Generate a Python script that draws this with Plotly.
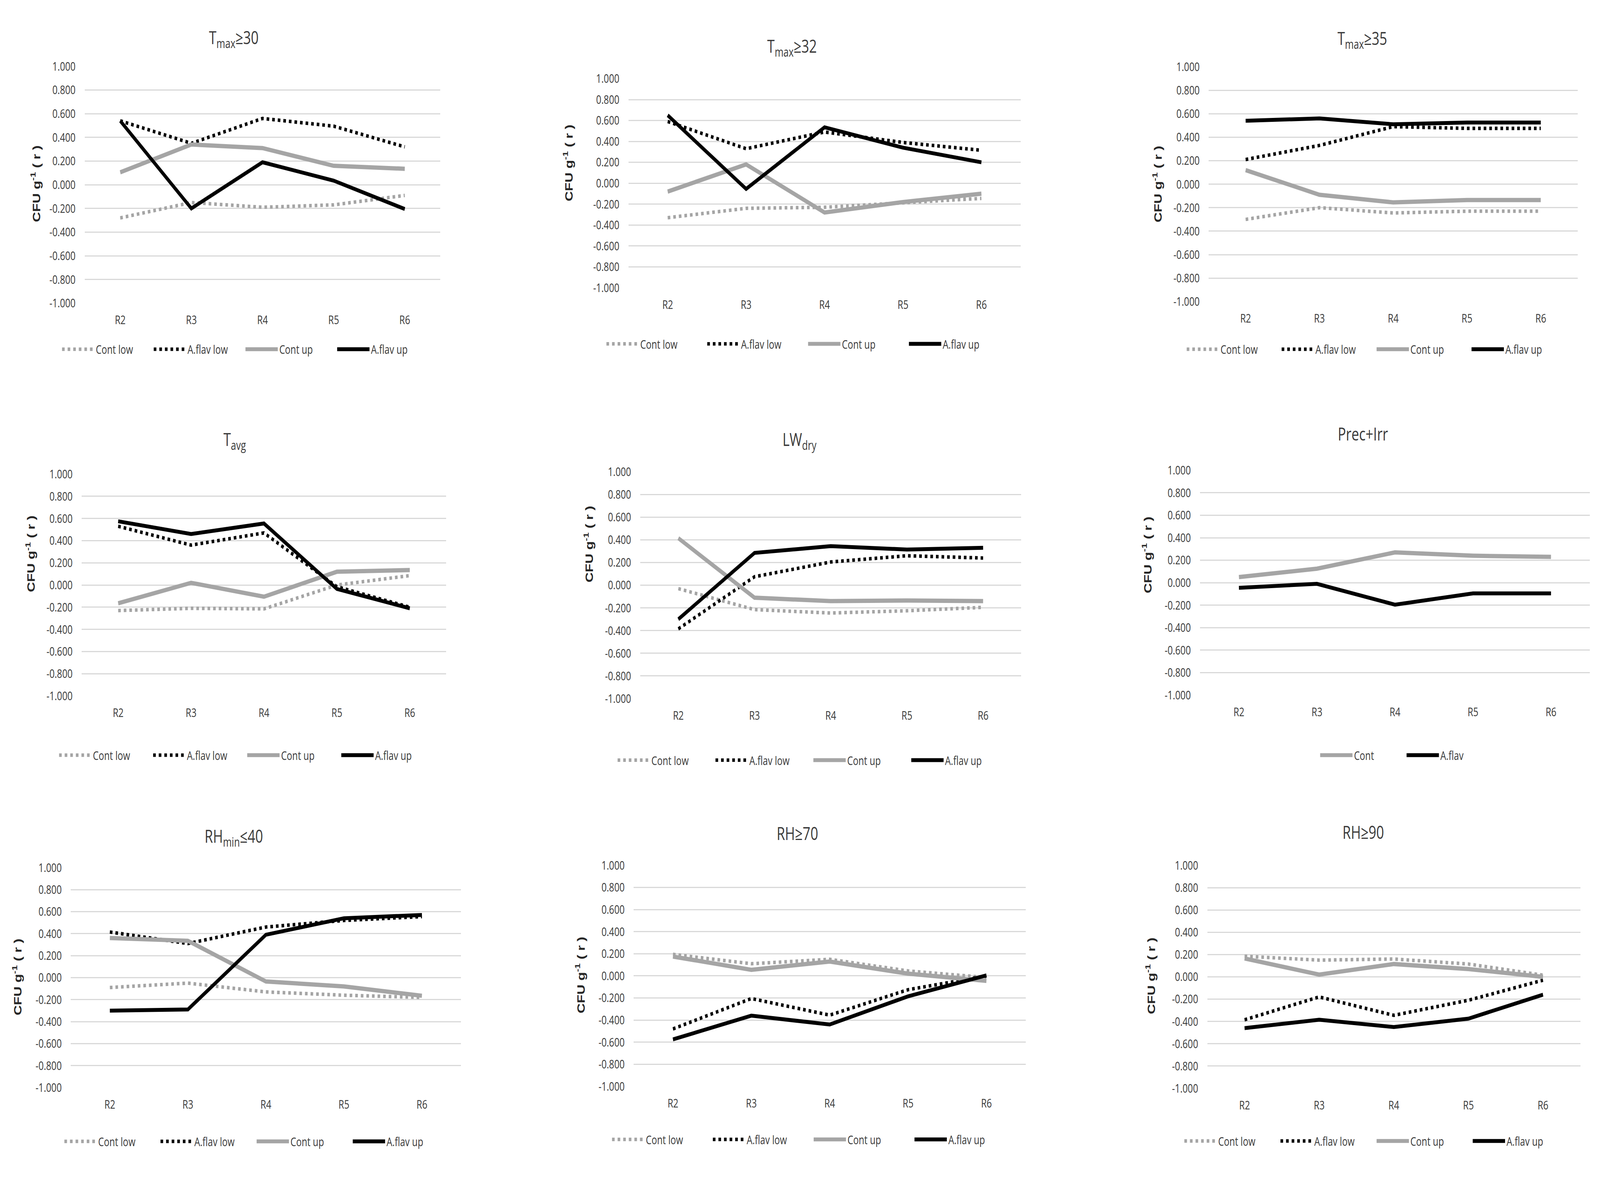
import plotly.graph_objects as go

# ---------------- data ----------------
categories = ["R2", "R3", "R4", "R5", "R6"]

ytick_vals = [1.0, 0.8, 0.6, 0.4, 0.2, 0.0, -0.2, -0.4, -0.6, -0.8, -1.0]
ytick_text = ["1.000", "0.800", "0.600", "0.400", "0.200", "0.000",
              "-0.200", "-0.400", "-0.600", "-0.800", "-1.000"]

panel_titles = ["T<sub>max</sub>≥30", "T<sub>max</sub>≥32", "T<sub>max</sub>≥35",
                "T<sub>avg</sub>", "LW<sub>dry</sub>", "Prec+Irr",
                "RH<sub>min</sub>≤40", "RH≥70", "RH≥90"]

tmax30_cont_low = [-0.28, -0.15, -0.19, -0.17, -0.09]
tmax30_aflav_low = [0.54, 0.35, 0.56, 0.495, 0.32]
tmax30_cont_up = [0.105, 0.34, 0.31, 0.16, 0.135]
tmax30_aflav_up = [0.54, -0.20, 0.19, 0.035, -0.205]

tmax32_cont_low = [-0.33, -0.24, -0.23, -0.19, -0.145]
tmax32_aflav_low = [0.59, 0.33, 0.49, 0.39, 0.315]
tmax32_cont_up = [-0.08, 0.18, -0.28, -0.18, -0.10]
tmax32_aflav_up = [0.65, -0.055, 0.535, 0.34, 0.20]

tmax35_cont_low = [-0.30, -0.20, -0.245, -0.23, -0.23]
tmax35_aflav_low = [0.21, 0.33, 0.49, 0.475, 0.475]
tmax35_cont_up = [0.12, -0.09, -0.155, -0.135, -0.135]
tmax35_aflav_up = [0.54, 0.56, 0.51, 0.525, 0.525]

tavg_cont_low = [-0.23, -0.21, -0.215, 0.0, 0.085]
tavg_aflav_low = [0.53, 0.36, 0.47, -0.015, -0.20]
tavg_cont_up = [-0.165, 0.02, -0.105, 0.12, 0.135]
tavg_aflav_up = [0.575, 0.46, 0.555, -0.035, -0.21]

lwdry_cont_low = [-0.03, -0.215, -0.245, -0.225, -0.195]
lwdry_aflav_low = [-0.385, 0.075, 0.205, 0.26, 0.24]
lwdry_cont_up = [0.415, -0.11, -0.14, -0.135, -0.14]
lwdry_aflav_up = [-0.30, 0.285, 0.345, 0.315, 0.33]

precirr_cont = [0.05, 0.125, 0.27, 0.24, 0.23]
precirr_aflav = [-0.045, -0.01, -0.195, -0.095, -0.095]

rhmin40_cont_low = [-0.09, -0.05, -0.13, -0.16, -0.18]
rhmin40_aflav_low = [0.415, 0.31, 0.46, 0.52, 0.555]
rhmin40_cont_up = [0.36, 0.335, -0.035, -0.08, -0.165]
rhmin40_aflav_up = [-0.30, -0.29, 0.39, 0.54, 0.57]

rh70_cont_low = [0.195, 0.11, 0.15, 0.045, -0.015]
rh70_aflav_low = [-0.48, -0.205, -0.355, -0.125, 0.0]
rh70_cont_up = [0.175, 0.055, 0.13, 0.02, -0.045]
rh70_aflav_up = [-0.575, -0.36, -0.44, -0.185, 0.005]

rh90_cont_low = [0.185, 0.15, 0.16, 0.115, 0.015]
rh90_aflav_low = [-0.385, -0.18, -0.345, -0.21, -0.03]
rh90_cont_up = [0.165, 0.02, 0.115, 0.07, 0.0]
rh90_aflav_up = [-0.46, -0.385, -0.45, -0.375, -0.16]

four = ["Cont low", "A.flav low", "Cont up", "A.flav up"]
two = ["Cont", "A.flav"]

panels_series = [
    list(zip(four, [tmax30_cont_low, tmax30_aflav_low, tmax30_cont_up, tmax30_aflav_up])),
    list(zip(four, [tmax32_cont_low, tmax32_aflav_low, tmax32_cont_up, tmax32_aflav_up])),
    list(zip(four, [tmax35_cont_low, tmax35_aflav_low, tmax35_cont_up, tmax35_aflav_up])),
    list(zip(four, [tavg_cont_low, tavg_aflav_low, tavg_cont_up, tavg_aflav_up])),
    list(zip(four, [lwdry_cont_low, lwdry_aflav_low, lwdry_cont_up, lwdry_aflav_up])),
    list(zip(two, [precirr_cont, precirr_aflav])),
    list(zip(four, [rhmin40_cont_low, rhmin40_aflav_low, rhmin40_cont_up, rhmin40_aflav_up])),
    list(zip(four, [rh70_cont_low, rh70_aflav_low, rh70_cont_up, rh70_aflav_up])),
    list(zip(four, [rh90_cont_low, rh90_aflav_low, rh90_cont_up, rh90_aflav_up])),
]

# ---------------- layout (pixels in the 5443x3014 canvas) ----------------
W, H = 5443, 3014
GRAY = "#a5a5a5"
TXT = "#3a3a3a"
FONT = "Open Sans"
ITEMW = 110

styles = {
    "Cont low": dict(color=GRAY, width=9, dash="9px,10px"),
    "A.flav low": dict(color="#000000", width=9, dash="9px,10px"),
    "Cont up": dict(color=GRAY, width=11, dash="solid"),
    "A.flav up": dict(color="#000000", width=10, dash="solid"),
    "Cont": dict(color=GRAY, width=11, dash="solid"),
    "A.flav": dict(color="#000000", width=10, dash="solid"),
}

boxes = [
    (288, 1498, 150, 765), (2138, 3472, 182, 725), (4112, 5367, 151, 761),
    (278, 1518, 1209, 1785), (2178, 3474, 1203, 1792), (4082, 5409, 1199, 1783),
    (241, 1568, 2231, 2802), (2156, 3489, 2225, 2799), (4107, 5376, 2225, 2804),
]
title_pos = [(795, 77), (2694, 99), (4634, 79), (798, 1121), (2720, 1121),
             (4636, 1103), (795, 2151), (2712, 2141), (4637, 2138)]
ytitle_pos = [(121, 455), (1933, 401), (3937, 456), (104, 1416), (2002, 1391),
              (3902, 1419), (58, 2515), (1974, 2510), (3914, 2512)]
legend_pos = [(330, 885, 310), (2182, 871, 341), (4156, 885, 321),
              (320, 1939, 318), (2220, 1952, 331), (4610, 1939, 292),
              (338, 2942, 325), (2201, 2937, 341), (4148, 2941, 325)]

fig = go.Figure()
layout = dict(
    width=W, height=H, autosize=False,
    margin=dict(l=0, r=0, t=0, b=0),
    paper_bgcolor="white", plot_bgcolor="white",
    font=dict(family=FONT, size=31, color=TXT),
    annotations=[],
)

for i, series in enumerate(panels_series):
    n = "" if i == 0 else str(i + 1)
    leg = "legend" + n
    for name, vals in series:
        fig.add_trace(go.Scatter(
            x=categories, y=vals, name=name, mode="lines",
            line=styles[name], xaxis="x" + n, yaxis="y" + n,
            legend=leg, hoverinfo="skip",
        ))
    x0, x1, yt, yb = boxes[i]
    layout["xaxis" + n] = dict(
        domain=[x0 / W, x1 / W], anchor="y" + n, type="category",
        range=[-0.5, 4.5], showgrid=False, zeroline=False, showline=False,
        ticks="", ticklabelstandoff=22, tickfont=dict(size=31, color=TXT, family=FONT),
        fixedrange=True,
    )
    layout["yaxis" + n] = dict(
        domain=[1 - yb / H, 1 - yt / H], anchor="x" + n, range=[-1, 1],
        tickvals=ytick_vals, ticktext=ytick_text, showgrid=True,
        gridcolor="#d9d9d9", gridwidth=3, zeroline=False, showline=False,
        ticks="", ticklabelstandoff=30, tickfont=dict(size=31, color=TXT, family=FONT),
        fixedrange=True,
    )
    lx, ly, sp = legend_pos[i]
    layout[leg] = dict(
        orientation="h", x=(lx - ITEMW - 14) / W, y=1 - ly / H, xanchor="left",
        yanchor="middle", itemwidth=ITEMW, entrywidth=sp - ITEMW - 13,
        entrywidthmode="pixels",
        font=dict(size=31, color=TXT, family=FONT), bgcolor="rgba(0,0,0,0)",
        itemclick=False, itemdoubleclick=False,
    )
    tx, ty = title_pos[i]
    layout["annotations"].append(dict(
        text=panel_titles[i], x=tx / W, y=1 - ty / H, xref="paper", yref="paper",
        xanchor="center", yanchor="middle", showarrow=False,
        font=dict(size=46, color=TXT, family=FONT),
    ))
    ax, ay = ytitle_pos[i]
    layout["annotations"].append(dict(
        text="<b>CFU g<sup>-1</sup> ( r )</b>", x=ax / W, y=1 - ay / H,
        xref="paper", yref="paper", xanchor="center", yanchor="middle",
        textangle=-90, showarrow=False,
        font=dict(size=36, color="#262626", family="Liberation Sans"),
    ))

fig.update_layout(**layout)

# The browser viewport may be narrower than the 5443x3014 design canvas
# (it is capped); stretch the finished figure so it fills the viewport.
fit_script = """
(function(){
  var gd = document.getElementById('{plot_id}');
  var W = 5443, H = 3014;
  function fit(){
    var vw = document.documentElement.clientWidth || window.innerWidth;
    var vh = window.innerHeight;
    document.documentElement.style.margin = '0';
    document.body.style.margin = '0';
    document.body.style.overflow = 'hidden';
    var wrap = gd.parentElement;
    wrap.style.width = vw + 'px';
    wrap.style.height = vh + 'px';
    wrap.style.overflow = 'hidden';
    gd.style.transformOrigin = '0 0';
    gd.style.transform = 'scale(' + (vw / W) + ',' + (vh / H) + ')';
  }
  fit();
  window.addEventListener('resize', fit);
})();
"""
fig.write_html("out.html", post_script=fit_script,
               config={"responsive": False, "displayModeBar": False})
